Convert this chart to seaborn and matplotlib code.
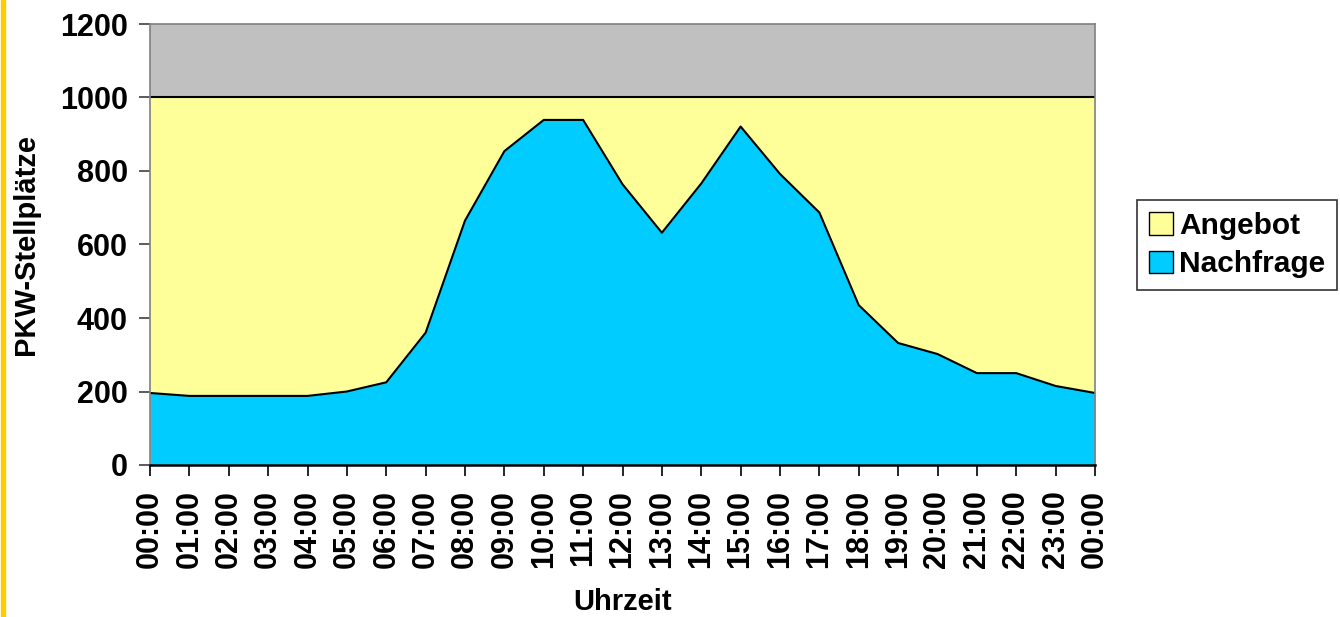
import matplotlib
matplotlib.use("Agg")
import matplotlib.pyplot as plt
from matplotlib.patches import Rectangle, Patch
import pandas as pd
import seaborn as sns

# Werte
uhrzeit = ["00:00", "01:00", "02:00", "03:00", "04:00", "05:00", "06:00", "07:00",
           "08:00", "09:00", "10:00", "11:00", "12:00", "13:00", "14:00", "15:00",
           "16:00", "17:00", "18:00", "19:00", "20:00", "21:00", "22:00", "23:00", "00:00"]
angebot = [1000] * 25
nachfrage = [196, 188, 188, 188, 188, 200, 225, 360, 665, 854, 939, 939, 764,
             632, 766, 921, 792, 687, 435, 332, 302, 250, 250, 215, 196]

df = pd.DataFrame({"pos": range(len(uhrzeit)), "Angebot": angebot, "Nachfrage": nachfrage})

sns.set_style("ticks")
plt.rcParams["font.family"] = ["Liberation Sans", "DejaVu Sans"]
plt.rcParams["font.weight"] = "bold"
plt.rcParams["text.color"] = "black"
plt.rcParams["axes.labelcolor"] = "black"
plt.rcParams["xtick.labelcolor"] = "black"
plt.rcParams["ytick.labelcolor"] = "black"

fig = plt.figure(figsize=(13.4, 6.17), dpi=100)
ax = fig.add_axes([150 / 1340, 1 - 465 / 617, 945 / 1340, 441 / 617])
ax.set_facecolor("#C0C0C0")

ax.fill_between(df["pos"], 0, df["Angebot"], color="#FFFF99", lw=0)
ax.fill_between(df["pos"], 0, df["Nachfrage"], color="#00CCFF", lw=0)
sns.lineplot(data=df, x="pos", y="Angebot", color="black", lw=1.5, ax=ax)
sns.lineplot(data=df, x="pos", y="Nachfrage", color="black", lw=1.5, ax=ax)

ax.set_xlim(0, len(uhrzeit) - 1)
ax.set_ylim(0, 1200)
ax.set_yticks(range(0, 1201, 200))
ax.set_xticks(df["pos"])
ax.set_xticklabels(uhrzeit, rotation=90, fontsize=22, fontweight="bold")
ax.tick_params(axis="y", labelsize=22, length=8, width=1.2, color="#404040", pad=8)
ax.tick_params(axis="x", length=8, width=1.2, color="black", pad=10)
for lbl in ax.get_yticklabels():
    lbl.set_fontweight("bold")

for s in ["top", "right"]:
    ax.spines[s].set_color("#808080")
    ax.spines[s].set_linewidth(1.2)
ax.spines["left"].set_color("#808080")
ax.spines["left"].set_linewidth(1.2)
ax.spines["bottom"].set_color("black")
ax.spines["bottom"].set_linewidth(1.8)

ax.set_xlabel("Uhrzeit", fontsize=21, fontweight="bold", labelpad=14)
ax.set_ylabel("PKW-Stellplätze", fontsize=21, fontweight="bold", labelpad=14)

handles = [Patch(facecolor="#FFFF99", edgecolor="black", label="Angebot"),
           Patch(facecolor="#00CCFF", edgecolor="black", label="Nachfrage")]
leg = fig.legend(handles=handles, loc="upper left",
                 bbox_to_anchor=(1137 / 1340, 1 - 200 / 617),
                 prop={"size": 21.5, "weight": "bold"}, frameon=True, fancybox=False,
                 edgecolor="black", handlelength=0.8, handleheight=0.8,
                 handletextpad=0.2, borderpad=0.4, labelspacing=0.35, borderaxespad=0)
leg.get_frame().set_linewidth(1.2)

# gelber Streifen am linken Rand
fig.patches.append(Rectangle((1 / 1340, 0), 4 / 1340, 1, transform=fig.transFigure,
                             color="#FFCC00", zorder=0))

fig.savefig("out.png", dpi=100)
